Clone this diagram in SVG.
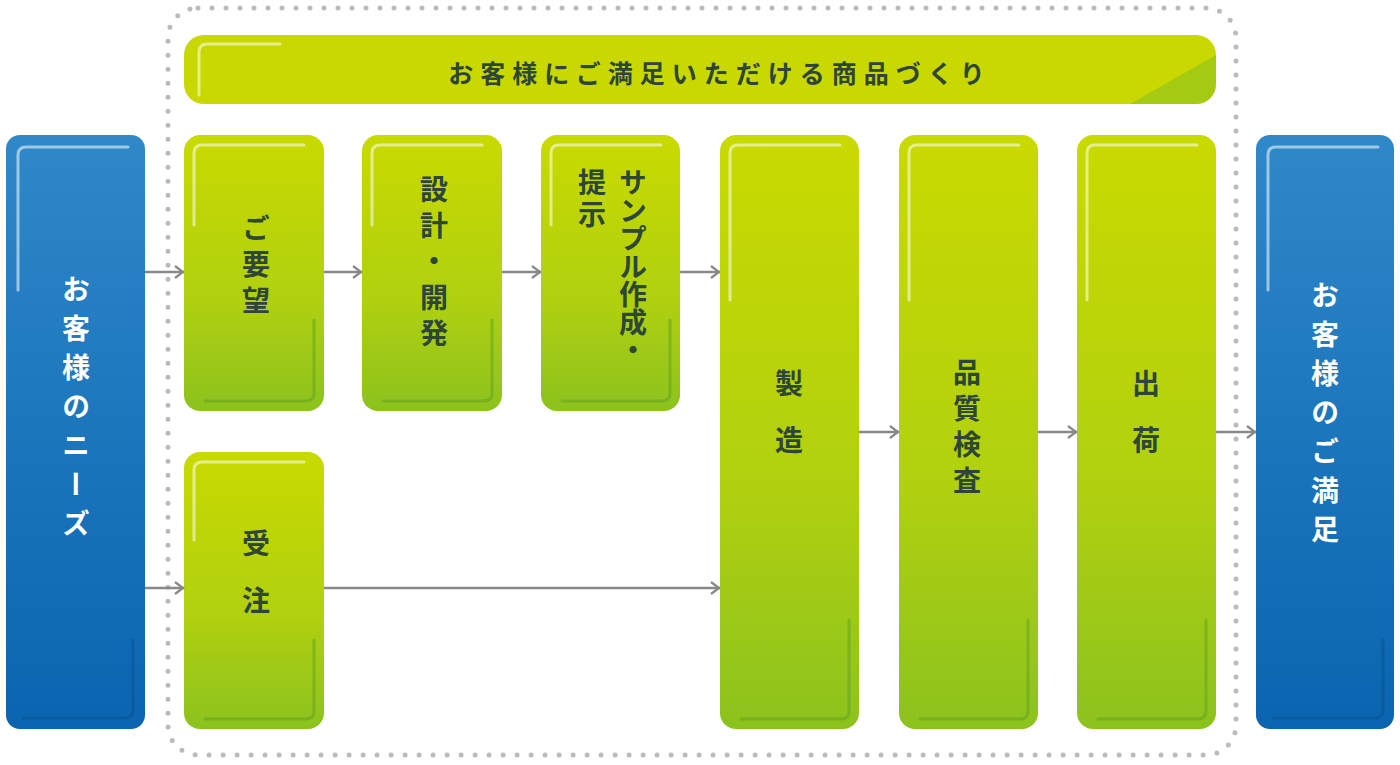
<svg xmlns="http://www.w3.org/2000/svg" width="1400" height="765" viewBox="0 0 1400 765">
<defs>
<linearGradient id="g" x1="0" y1="0" x2="0" y2="1"><stop offset="0" stop-color="#c9da00"/><stop offset="0.6" stop-color="#b0d010"/><stop offset="1" stop-color="#8cc21e"/></linearGradient>
<linearGradient id="b" x1="0" y1="0" x2="0" y2="1"><stop offset="0" stop-color="#2f88c8"/><stop offset="1" stop-color="#0a64b0"/></linearGradient>
<marker id="a" viewBox="0 0 12 14" refX="11" refY="7" markerWidth="12" markerHeight="14" markerUnits="userSpaceOnUse" orient="auto"><path d="M2 1 L10 7 L2 13" fill="none" stroke="#888" stroke-width="2.2"/></marker>
</defs>
<style>
.gr{fill:url(#g)}.bl{fill:url(#b)}
.hl{fill:none;stroke:#fff;stroke-opacity:.55;stroke-width:3;stroke-linecap:round}
.sh{fill:none;stroke:#5fa020;stroke-opacity:.5;stroke-width:3;stroke-linecap:round}
.shb{fill:none;stroke:#0a4f90;stroke-opacity:.5;stroke-width:3;stroke-linecap:round}
.t{font-family:"Noto Sans CJK JP","Noto Sans",sans-serif;font-weight:bold;font-size:28px;fill:#2e4637;writing-mode:vertical-rl;text-anchor:middle;letter-spacing:8px}
.w{fill:#fff;letter-spacing:11px}
.c line{stroke:#888;stroke-width:2.5;marker-end:url(#a)}
</style>
<rect x="168" y="8" width="1068" height="747" rx="30" fill="none" stroke="#bbb" stroke-width="5" stroke-linecap="round" stroke-dasharray="0 14"/>
<g id="banner"><rect x="184" y="35" width="1032" height="69" rx="20" class="gr" fill="#c8d800" style="fill:#c8d800"/><path d="M1130 104 H1196 a20 20 0 0 0 20 -20 V55" fill="#8cc21e" opacity=".6"/><path class="hl" d="M199 95 V52 q0 -8 8 -8 H280"/><text x="720" y="83" style="font-family:'Noto Sans CJK JP',sans-serif;font-weight:bold;font-size:25px;fill:#2e4637;letter-spacing:7px" text-anchor="middle">お客様にご満足いただける商品づくり</text></g>
<g id="needs"><rect x="6" y="135" width="139" height="594" rx="14" class="bl"/><path class="hl" d="M18 290 V155 q0 -8 8 -8 H128"/><path class="shb" d="M24 718 H125 q8 0 8 -8 V640"/><text class="t w" x="76" y="412">お客様のニーズ</text></g>
<g id="satisfy"><rect x="1256" y="135" width="138" height="594" rx="14" class="bl"/><path class="hl" d="M1268 290 V155 q0 -8 8 -8 H1378"/><path class="shb" d="M1274 718 H1375 q8 0 8 -8 V640"/><text class="t w" x="1325" y="418">お客様のご満足</text></g>
<g id="n1"><rect x="184" y="135" width="140" height="276" rx="16" class="gr"/><path class="hl" d="M194 225 V153 q0 -8 8 -8 H304"/><path class="sh" d="M205 401 H306 q8 0 8 -8 V320"/><text class="t" x="256" y="268">ご要望</text></g>
<g id="n2"><rect x="362" y="135" width="140" height="276" rx="16" class="gr"/><path class="hl" d="M372 225 V153 q0 -8 8 -8 H482"/><path class="sh" d="M383 401 H484 q8 0 8 -8 V320"/><text class="t" x="434" y="265">設計・開発</text></g>
<g id="n3"><rect x="541" y="135" width="139" height="276" rx="16" class="gr"/><path class="hl" d="M551 225 V153 q0 -8 8 -8 H661"/><path class="sh" d="M562 401 H662 q8 0 8 -8 V320"/><text class="t" x="633" y="168" style="text-anchor:start;letter-spacing:0">サンプル作成・</text><text class="t" x="592" y="168" style="text-anchor:start;letter-spacing:4px">提示</text></g>
<g id="n4"><rect x="184" y="452" width="140" height="277" rx="16" class="gr"/><path class="hl" d="M194 540 V470 q0 -8 8 -8 H304"/><path class="sh" d="M205 719 H306 q8 0 8 -8 V640"/><text class="t" x="256" y="586" style="letter-spacing:29px">受注</text></g>
<g id="n5"><rect x="720" y="135" width="139" height="594" rx="16" class="gr"/><path class="hl" d="M730 300 V153 q0 -8 8 -8 H840"/><path class="sh" d="M741 719 H841 q8 0 8 -8 V620"/><text class="t" x="789" y="426" style="letter-spacing:29px">製造</text></g>
<g id="n6"><rect x="899" y="135" width="139" height="594" rx="16" class="gr"/><path class="hl" d="M909 300 V153 q0 -8 8 -8 H1019"/><path class="sh" d="M920 719 H1020 q8 0 8 -8 V620"/><text class="t" x="967" y="430">品質検査</text></g>
<g id="n7"><rect x="1077" y="135" width="139" height="594" rx="16" class="gr"/><path class="hl" d="M1087 300 V153 q0 -8 8 -8 H1197"/><path class="sh" d="M1098 719 H1198 q8 0 8 -8 V620"/><text class="t" x="1146" y="426" style="letter-spacing:29px">出荷</text></g>
<g class="c" id="connectors">
<line x1="145" y1="272" x2="184" y2="272"/><line x1="324" y1="272" x2="362" y2="272"/><line x1="502" y1="272" x2="541" y2="272"/><line x1="680" y1="272" x2="720" y2="272"/>
<line x1="145" y1="588" x2="184" y2="588"/><line x1="324" y1="588" x2="720" y2="588"/>
<line x1="859" y1="432" x2="899" y2="432"/><line x1="1038" y1="432" x2="1077" y2="432"/><line x1="1216" y1="432" x2="1256" y2="432"/>
</g>
</svg>
